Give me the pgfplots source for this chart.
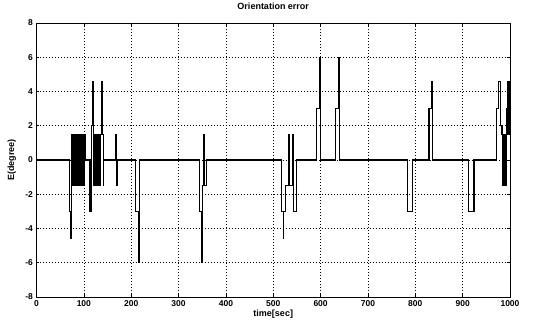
\documentclass[border=0pt]{standalone}
\usepackage{fontspec}
\setmainfont{Liberation Sans}
\usepackage{pgfplots}
\pgfplotsset{compat=1.18}
\begin{document}
\begin{tikzpicture}
\useasboundingbox (-36.5pt,-29pt) rectangle (505.5pt,297pt);
\begin{axis}[
  scale only axis, width=473.5pt, height=274pt,
  xmin=0, xmax=1000, ymin=-8, ymax=8,
  xtick={0,100,...,1000}, ytick={-8,-6,...,8},
  grid=major, major grid style={black, dash pattern=on 0.7pt off 2.3pt, line width=0.6pt},
  tick align=inside, major tick length=3pt, tick style={black, line width=0.6pt},
  axis line style={line width=0.9pt},
  /pgf/number format/assume math mode=true,
  /pgf/number format/1000 sep={},
  every tick label/.append style={font=\fontsize{8.5}{10}\selectfont\bfseries},
  scaled ticks=false,
  title={Orientation error},
  title style={font=\fontsize{9}{10}\selectfont\bfseries, at={(axis description cs:0.5,1.04)}, anchor=center},
  xlabel={time[sec]},
  xlabel style={font=\fontsize{9}{10}\selectfont\bfseries, at={(axis description cs:0.5,-0.064)}, anchor=center},
  ylabel={E(degree)},
  ylabel style={font=\fontsize{9}{10}\selectfont\bfseries, at={(axis description cs:-0.052,0.5)}, anchor=center, rotate=0},
]
\addplot[const plot, black, line width=1.1pt] coordinates {
(0,0)
(69,-3)(72,-4.6)(73,-3)(73.5,-1.5)
(74,1.5)(75,-1.5)(76,1.5)(77,-1.5)(78,1.5)(79,-1.5)(80,1.5)(81,-1.5)(82,1.5)(83,-1.5)(84,1.5)(85,-1.5)(86,1.5)(87,-1.5)(88,1.5)(89,-1.5)(90,1.5)(91,-1.5)(92,1.5)(93,-1.5)(94,1.5)(95,-1.5)(96,1.5)(97,-1.5)(98,1.5)(99,-1.5)(100,1.5)(101,-1.5)(102,1.5)
(103,0)
(113,-3)(117,2)(118,4.6)(120,1.5)(121,-1.5)(122,1.5)(123,-1.5)(124,1.5)(125,-1.5)(126,1.5)(127,-1.5)(128,1.5)(129,-1.5)(130,1.5)(131,-1.5)(132,1.5)(133,-1.5)(134,1.5)(135,-1.5)(136,1.5)(137,2)(138,4.6)(140,1.5)(141,-1.5)
(142,0)
(167,1.5)(169,-1.5)(171,0)
(209,-3)(215,-6)(217,0)
(344,-3)(349,-6)(350,-1.5)(353,1.5)(354,-1.5)(359,0)
(518,-3)(521,-4.6)(522,-3)(526,-1.5)(533,1.5)(534,-1.5)(541,1.5)(542,-3)(549,0)
(591,3)(598,6)(600.5,0)
(632,3)(638,6)(640.5,0)
(784,-3)(795,0)
(829,3)(834,4.6)(837,0)
(913,-3)(924,0)
(971,3)(976,4.6)(980,2)(983,1.5)(985,-1.5)(986,1.5)(987,-1.5)(988,1.5)(989,-1.5)(990,1.5)(991,-1.5)(993,3)(994,4.6)(995,1.5)(996,4.6)(997,3)(998,4.6)(999,1.5)(1000,1.5)
};
\addplot[black, line width=1.1pt] coordinates {(1000,1.5)(1000,4.6)};
\end{axis}
\end{tikzpicture}
\end{document}
